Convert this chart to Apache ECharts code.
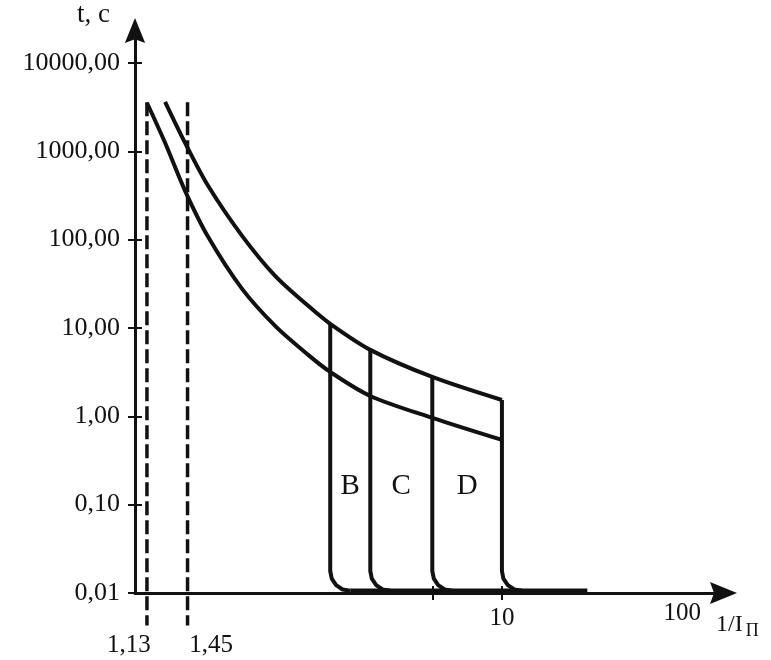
<!DOCTYPE html>
<html><head><meta charset="utf-8">
<script src="https://cdn.jsdelivr.net/npm/echarts@6/dist/echarts.min.js"></script>
<style>html,body{margin:0;padding:0;background:#fff}#c{width:771px;height:660px}</style>
</head><body><div id="c"></div>
<script>
// ---- data ----
const yTicks = [0.01, 0.1, 1, 10, 100, 1000, 10000];
const yTickLabels = ['0,01', '0,10', '1,00', '10,00', '100,00', '1000,00', '10000,00'];
const xLabelValues = [1.13, 1.45, 10];
const xTickLabels = ['1,13', '1,45', '10'];
const xTicks = [6.52, 10];
const xAxisEndLabel = '100';
const xAxisTitle = '1/I';
const xAxisTitleSub = 'П';
const yAxisTitle = 't, c';

// upper boundary of time-current band (t, s vs multiple of current)
const upperCurve = [[1.263, 3636], [1.428, 1248], [1.645, 406.7], [2.027, 110.4], [2.483, 38.9], [3.042, 17.8], [3.483, 11.13], [4.455, 5.65], [6.52, 2.79], [10, 1.53]];
// lower boundary
const lowerCurve = [[1.13, 3542], [1.263, 1248], [1.428, 357], [1.645, 107.6], [2.027, 27.7], [2.483, 10.56], [3.042, 4.96], [3.483, 3.18], [4.455, 1.70], [6.52, 0.959], [10, 0.540]];
// instantaneous trip edges (B, C, D, end) with rounded foot
const tripB = [[3.483, 11.13], [3.483, 0.01774], [3.516, 0.01454], [3.611, 0.01228], [3.758, 0.01096], [3.939, 0.0106]];
const tripC = [[4.455, 5.65], [4.455, 0.01774], [4.497, 0.01454], [4.619, 0.01228], [4.806, 0.01096], [5.038, 0.0106]];
const tripD = [[6.52, 2.79], [6.52, 0.01774], [6.581, 0.01454], [6.759, 0.01228], [7.034, 0.01096], [7.373, 0.0106]];
const tripEnd = [[10, 1.53], [10, 0.01774], [10.09, 0.01454], [10.37, 0.01228], [10.79, 0.01096], [11.31, 0.0106]];
const tail = [[3.939, 0.0106], [16.9, 0.0106]];
// dashed limits 1,13 and 1,45
const limit113 = [[1.13, 3600], [1.13, 0.0043]];
const limit145 = [[1.45, 3600], [1.45, 0.0043]];
// zone names and their bounding trip multiples
const zoneNames = ['B', 'C', 'D'];
const zoneBounds = [3.483, 4.455, 6.52, 10];
const zoneLabelT = 0.16;

// ---- chart ----
const FONT = 'Liberation Serif';
const INK = '#111111';
const chart = echarts.init(document.getElementById('c'));

function near(a, b) { return Math.abs(a - b) / b < 0.01; }
function yFmt(v) { for (let i = 0; i < yTicks.length; i++) if (near(v, yTicks[i])) return yTickLabels[i]; return ''; }
const xStyles = ['a', 'b', 'c'];
function xFmt(v) { for (let i = 0; i < xLabelValues.length; i++) if (near(v, xLabelValues[i])) return '{' + xStyles[i] + '|' + xTickLabels[i] + '}'; return ''; }

const zoneData = zoneNames.map((n, i) => ({ name: n, value: [Math.sqrt(zoneBounds[i] * zoneBounds[i + 1]), zoneLabelT] }));

function lineSeries(data, extra) {
  return Object.assign({
    type: 'line', data: data, showSymbol: false, symbol: 'none', silent: true,
    lineStyle: { color: INK, width: 4, cap: 'butt', join: 'round' }, z: 5
  }, extra || {});
}

const arrowPath = 'path://M11,0 L22,27 L11,23 L0,27 Z';
const XMIN = 1.05, XMAX = 39, YMIN = 0.01, YMAX = 23300;

chart.setOption({
  animation: false,
  backgroundColor: '#fff',
  grid: { left: 135, right: 47.5, top: 30.5, bottom: 67, containLabel: false },
  xAxis: [{
    type: 'log', logBase: 10, min: XMIN, max: XMAX, position: 'bottom',
    axisLine: { show: true, lineStyle: { color: INK, width: 3 }, symbol: ['none', arrowPath], symbolSize: [22, 27] },
    axisTick: { show: true, customValues: xTicks, length: 7, lineStyle: { color: INK, width: 2 } },
    minorTick: { show: false },
    splitLine: { show: false },
    axisLabel: {
      show: true, customValues: xLabelValues, formatter: xFmt, margin: 13,
      color: INK, fontFamily: FONT, fontSize: 25,
      rich: {
        a: { fontFamily: FONT, fontSize: 25, color: INK, width: 80, align: 'left', padding: [27, 0, 0, 0] },
        b: { fontFamily: FONT, fontSize: 25, color: INK, width: 91, align: 'right', padding: [27, 0, 0, 0] },
        c: { fontFamily: FONT, fontSize: 25, color: INK }
      }
    },
    name: '{h|' + xAxisEndLabel + '}{m|' + xAxisTitle + '}{s|' + xAxisTitleSub + '}',
    nameLocation: 'end', nameGap: -60,
    nameTextStyle: {
      align: 'left', verticalAlign: 'top',
      rich: {
        h: { fontFamily: FONT, fontSize: 25, color: INK, verticalAlign: 'top', lineHeight: 25, padding: [8, 15, 0, 0] },
        m: { fontFamily: FONT, fontSize: 24, color: INK, verticalAlign: 'top', lineHeight: 24, padding: [20, 3, 0, 0] },
        s: { fontFamily: FONT, fontSize: 18, color: INK, verticalAlign: 'top', lineHeight: 18, padding: [29, 0, 0, 0] }
      }
    }
  }, {
    type: 'log', logBase: 10, min: XMIN, max: XMAX, position: 'bottom',
    axisLine: { show: false },
    axisTick: { show: true, inside: true, customValues: xTicks, length: 7, lineStyle: { color: INK, width: 2 } },
    axisLabel: { show: false }, splitLine: { show: false }, minorTick: { show: false }
  }],
  yAxis: [{
    type: 'log', logBase: 10, min: YMIN, max: YMAX, position: 'left',
    axisLine: { show: true, lineStyle: { color: INK, width: 3 }, symbol: ['none', arrowPath], symbolSize: [22, 25] },
    axisTick: { show: true, customValues: yTicks, length: 7, lineStyle: { color: INK, width: 2 } },
    minorTick: { show: false },
    splitLine: { show: false },
    axisLabel: { show: true, customValues: yTicks, formatter: yFmt, margin: 15, color: INK, fontFamily: FONT, fontSize: 26 },
    name: yAxisTitle, nameLocation: 'end', nameGap: 16,
    nameTextStyle: { fontFamily: FONT, fontSize: 27, color: INK, align: 'right', verticalAlign: 'middle', padding: [0, 25, 0, 0] }
  }, {
    type: 'log', logBase: 10, min: YMIN, max: YMAX, position: 'left',
    axisLine: { show: false },
    axisTick: { show: true, inside: true, customValues: yTicks, length: 7, lineStyle: { color: INK, width: 2 } },
    axisLabel: { show: false }, splitLine: { show: false }, minorTick: { show: false }
  }],
  series: [
    lineSeries(limit113, { clip: false, lineStyle: { color: INK, width: 3.5, type: [14, 5] }, z: 3 }),
    lineSeries(limit145, { clip: false, lineStyle: { color: INK, width: 3.5, type: [14, 5] }, z: 3 }),
    lineSeries(upperCurve, { smooth: 0.3 }),
    lineSeries(lowerCurve, { smooth: 0.3 }),
    lineSeries(tripB),
    lineSeries(tripC),
    lineSeries(tripD),
    lineSeries(tripEnd),
    lineSeries(tail, { lineStyle: { color: INK, width: 4.5, cap: 'butt' } }),
    {
      type: 'scatter', data: zoneData, symbolSize: 0.01, silent: true,
      itemStyle: { color: INK, opacity: 1 },
      label: { show: true, position: [0, 0], align: 'center', verticalAlign: 'middle', formatter: p => p.name, fontFamily: FONT, fontSize: 29, color: INK, opacity: 1, textBorderWidth: 0 },
      z: 6
    }
  ]
});
</script></body></html>
